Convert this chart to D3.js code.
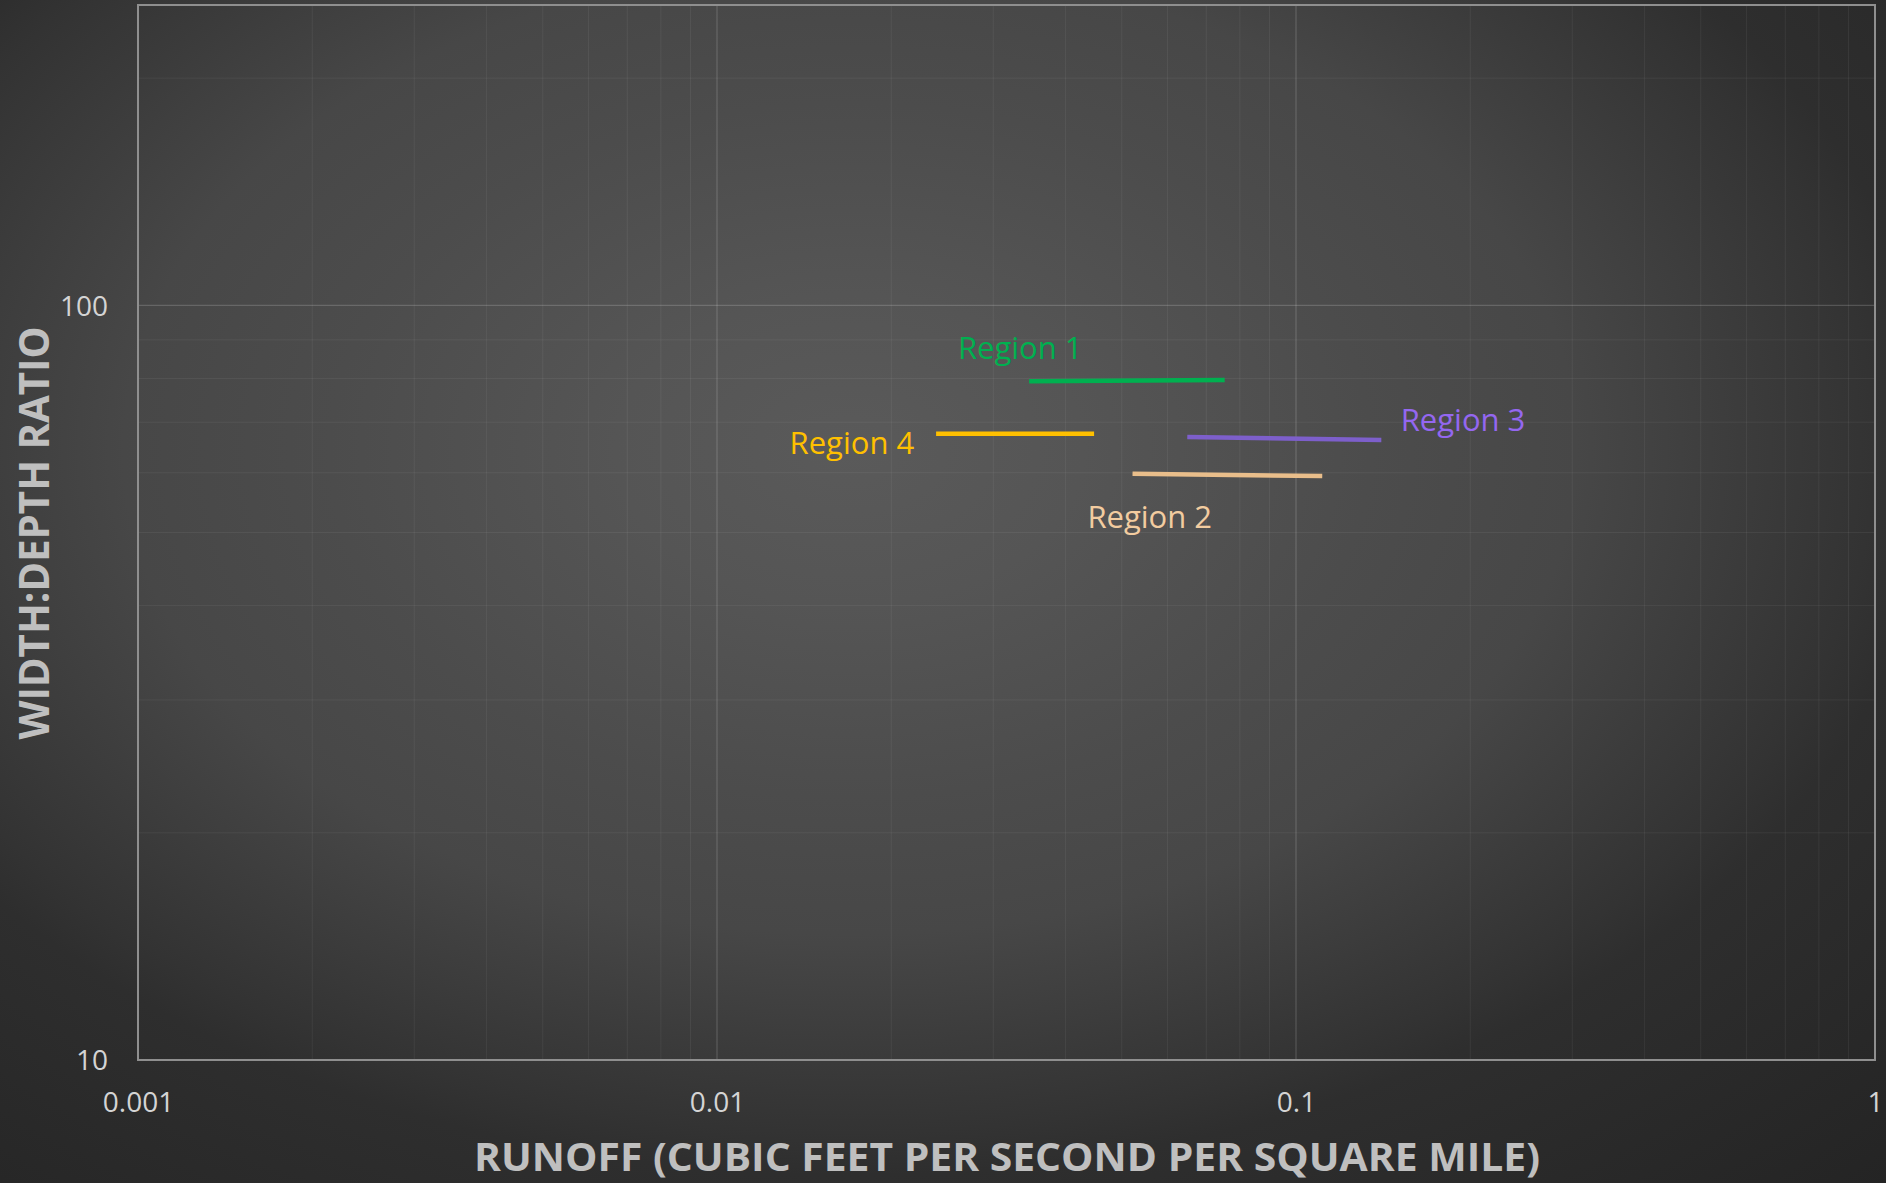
<!DOCTYPE html>
<html>
<head>
<meta charset="utf-8">
<script src="https://cdn.jsdelivr.net/npm/d3@7"></script>
<style>
  html, body { margin: 0; padding: 0; background: #2b2b2b; }
  svg { display: block; }
</style>
</head>
<body>
<svg id="chart" width="1886" height="1183"></svg>
<script>
// Regional width:depth ratio vs. runoff, log-log
const regions = ["Region 1", "Region 2", "Region 3", "Region 4"];
const runoffStart = [0.0346, 0.0522, 0.0649, 0.0239];
const runoffEnd   = [0.0753, 0.1110, 0.1404, 0.0448];
const ratioStart  = [79.3, 59.8, 66.9, 67.6];
const ratioEnd    = [79.6, 59.4, 66.3, 67.6];
const regionColors = ["#00B050", "#E9BE8B", "#7D5FCB", "#FFC000"];
const labelColors  = ["#00B050", "#F2CCA0", "#9467F0", "#FFC000"];
// label centre points, in data units
const labelRunoff = [0.0334, 0.0559, 0.1943, 0.0171];
const labelRatio  = [87.7, 52.4, 70.4, 65.6];

const xTicks = [0.001, 0.01, 0.1, 1];
const xTickLabels = ["0.001", "0.01", "0.1", "1"];
const yTicks = [10, 100];
const yTickLabels = ["10", "100"];

const W = 1886, H = 1183;
const margin = { left: 138, right: 11, top: 5, bottom: 123 };

const svg = d3.select("#chart");

// background vignette (elliptical, brighter toward the plot centre)
const defs = svg.append("defs");
const grad = defs.append("radialGradient")
  .attr("id", "bg")
  .attr("gradientUnits", "userSpaceOnUse")
  .attr("cx", 850).attr("cy", 450).attr("r", 1600)
  .attr("gradientTransform", "translate(850,450) scale(1,0.6667) translate(-850,-450)");
[[0, "#5a5a5a"], [0.146, "#555555"], [0.325, "#4c4c4c"], [0.454, "#474747"],
 [0.64, "#333333"], [0.68, "#2e2e2e"], [1, "#222222"]]
  .forEach(([o, c]) => grad.append("stop").attr("offset", o).attr("stop-color", c));
svg.append("rect").attr("width", W).attr("height", H).attr("fill", "url(#bg)");

const x = d3.scaleLog().domain([0.001, 1]).range([margin.left, W - margin.right]);
const y = d3.scaleLog().domain([10, 250]).range([H - margin.bottom, margin.top]);

const grid = svg.append("g");

// minor gridlines
const xMinor = [];
for (let e = -3; e < 0; e++) for (let m = 2; m <= 9; m++) xMinor.push(m * Math.pow(10, e));
const yMinor = [];
for (let e = 1; e <= 2; e++) for (let m = 2; m <= 9; m++) {
  const v = m * Math.pow(10, e);
  if (v <= 250) yMinor.push(v);
}
grid.selectAll(".xm").data(xMinor).join("line")
  .attr("x1", d => x(d)).attr("x2", d => x(d))
  .attr("y1", y(250)).attr("y2", y(10))
  .attr("stroke", "rgba(255,255,255,0.06)").attr("stroke-width", 1);
grid.selectAll(".ym").data(yMinor).join("line")
  .attr("x1", x(0.001)).attr("x2", x(1))
  .attr("y1", d => y(d)).attr("y2", d => y(d))
  .attr("stroke", "rgba(255,255,255,0.06)").attr("stroke-width", 1);

// major gridlines
grid.selectAll(".xM").data(xTicks).join("line")
  .attr("x1", d => x(d)).attr("x2", d => x(d))
  .attr("y1", y(250)).attr("y2", y(10))
  .attr("stroke", "rgba(255,255,255,0.17)").attr("stroke-width", 1.2);
grid.selectAll(".yM").data(yTicks).join("line")
  .attr("x1", x(0.001)).attr("x2", x(1))
  .attr("y1", d => y(d)).attr("y2", d => y(d))
  .attr("stroke", "rgba(255,255,255,0.17)").attr("stroke-width", 1.2);

// plot frame
svg.append("rect")
  .attr("x", x(0.001)).attr("y", y(250))
  .attr("width", x(1) - x(0.001)).attr("height", y(10) - y(250))
  .attr("fill", "none").attr("stroke", "#8f8f8f").attr("stroke-width", 2);

// axes (labels only)
const xAxis = d3.axisBottom(x).tickValues(xTicks)
  .tickFormat((d, i) => xTickLabels[i]).tickSize(0).tickPadding(0);
const gx = svg.append("g").attr("transform", `translate(0,${y(10)})`).call(xAxis);
gx.select(".domain").remove();
gx.selectAll("text")
  .attr("y", 42).attr("dy", "0.35em")
  .attr("fill", "#d4d4d4")
  .style("font-family", "'Open Sans', sans-serif").style("font-size", "28px");

const yAxis = d3.axisLeft(y).tickValues(yTicks)
  .tickFormat((d, i) => yTickLabels[i]).tickSize(0).tickPadding(0);
const gy = svg.append("g").attr("transform", `translate(${x(0.001)},0)`).call(yAxis);
gy.select(".domain").remove();
gy.selectAll("text")
  .attr("x", -30).attr("dy", "0.35em")
  .attr("fill", "#d4d4d4")
  .style("font-family", "'Open Sans', sans-serif").style("font-size", "28px");

// axis titles
svg.append("text")
  .attr("x", 1007).attr("y", 1171)
  .attr("text-anchor", "middle")
  .attr("textLength", 1066).attr("lengthAdjust", "spacingAndGlyphs")
  .attr("fill", "#bfbfbf")
  .style("font-family", "'Open Sans', sans-serif").style("font-weight", "700")
  .style("font-size", "40px")
  .text("RUNOFF (CUBIC FEET PER SECOND PER SQUARE MILE)");

svg.append("text")
  .attr("transform", "translate(49,533) rotate(-90)")
  .attr("text-anchor", "middle")
  .attr("textLength", 413).attr("lengthAdjust", "spacingAndGlyphs")
  .attr("fill", "#bfbfbf")
  .style("font-family", "'Open Sans', sans-serif").style("font-weight", "700")
  .style("font-size", "42px")
  .text("WIDTH:DEPTH RATIO");

// region trend segments
const segs = regions.map((r, i) => ({
  name: r, x0: runoffStart[i], x1: runoffEnd[i], y0: ratioStart[i], y1: ratioEnd[i],
  color: regionColors[i], lc: labelColors[i], lx: labelRunoff[i], ly: labelRatio[i]
}));

svg.append("g").selectAll("line").data(segs).join("line")
  .attr("x1", d => x(d.x0)).attr("x2", d => x(d.x1))
  .attr("y1", d => y(d.y0)).attr("y2", d => y(d.y1))
  .attr("stroke", d => d.color).attr("stroke-width", 4.5);

svg.append("g").selectAll("text").data(segs).join("text")
  .attr("x", d => x(d.lx)).attr("y", d => y(d.ly))
  .attr("dy", "0.35em")
  .attr("text-anchor", "middle")
  .attr("fill", d => d.lc)
  .style("font-family", "'Open Sans', sans-serif").style("font-size", "31px")
  .text(d => d.name);
</script>
</body>
</html>
